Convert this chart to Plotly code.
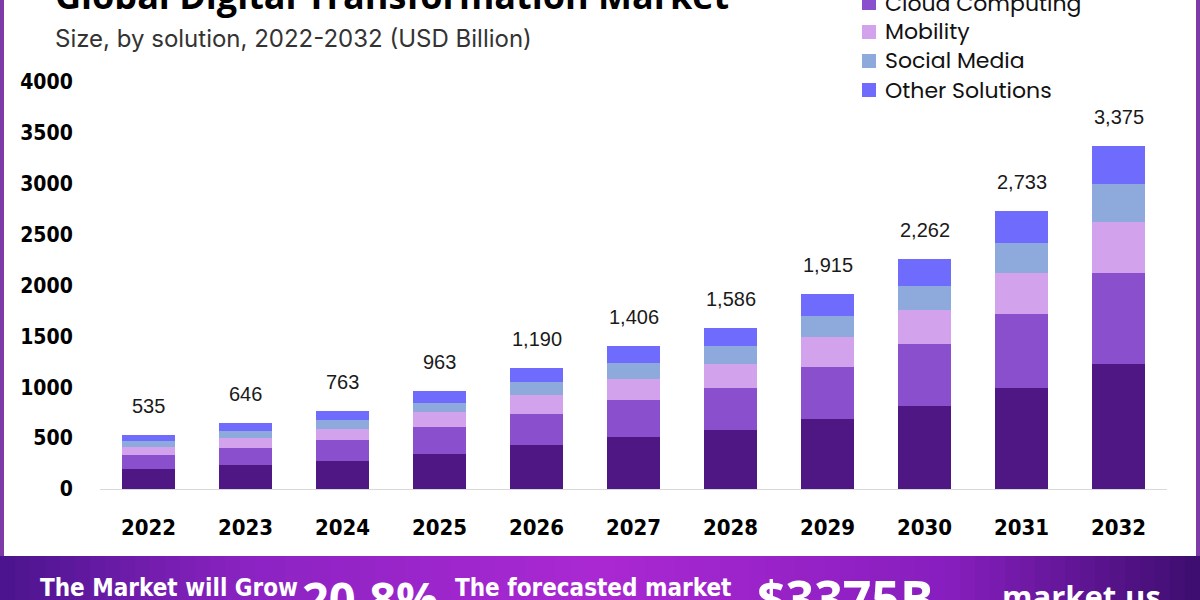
import plotly.graph_objects as go

years = ["2022", "2023", "2024", "2025", "2026", "2027", "2028", "2029", "2030", "2031", "2032"]
totals = [535, 646, 763, 963, 1190, 1406, 1586, 1915, 2262, 2733, 3375]
series_names = ["Analytics", "Cloud Computing", "Mobility", "Social Media", "Other Solutions"]
analytics = [195, 235, 276, 345, 429, 510, 576, 692, 816, 993, 1230]
cloud = [142, 170, 204, 260, 312, 369, 417, 508, 605, 723, 890]
mobility = [80, 97, 110, 148, 180, 207, 234, 290, 338, 404, 503]
social = [59, 72, 86, 95, 131, 157, 177, 210, 239, 302, 372]
other = [59, 72, 87, 115, 138, 163, 182, 215, 264, 311, 380]
series_values = [analytics, cloud, mobility, social, other]
colors = ["#4E1784", "#8A4FCD", "#D3A2EC", "#8EA9DB", "#6F6CFD"]
y_ticks = [0, 500, 1000, 1500, 2000, 2500, 3000, 3500, 4000]

W, H = 1200, 600
ML, MR, MT, MB = 100, 33, 82, 111
PW, PH = W - ML - MR, H - MT - MB


def px(x):
    return (x - ML) / PW


def py(y):
    return (H - MB - y) / PH


fig = go.Figure()
for name, vals, col in zip(series_names, series_values, colors):
    fig.add_trace(go.Bar(x=years, y=vals, name=name, marker=dict(color=col, line=dict(width=0)),
                         width=0.55, showlegend=False))

for i, t in enumerate(totals):
    fig.add_annotation(x=i, y=t, text=f"{t:,}", showarrow=False, yshift=29, yanchor="middle",
                       font=dict(family="Liberation Sans, Arial, sans-serif", size=20, color="#1a1a1a"))

shapes = []
# purple frame
shapes.append(dict(type="line", xref="paper", yref="paper", x0=px(2), x1=px(2), y0=py(0), y1=py(556),
                   line=dict(color="#7E3AA6", width=4)))
shapes.append(dict(type="line", xref="paper", yref="paper", x0=px(1198), x1=px(1198), y0=py(0), y1=py(556),
                   line=dict(color="#7E3AA6", width=4)))
# bottom banner gradient
stops = [(0, (74, 20, 140)), (250, (140, 35, 195)), (600, (170, 40, 210)), (950, (135, 30, 190)), (1200, (60, 14, 110))]


def grad(x):
    for (x0, c0), (x1, c1) in zip(stops[:-1], stops[1:]):
        if x0 <= x <= x1:
            f = (x - x0) / (x1 - x0)
            return "rgb(%d,%d,%d)" % tuple(round(a + (b - a) * f) for a, b in zip(c0, c1))
    return "rgb(60,14,110)"


n = 80
for i in range(n):
    xa, xb = i * W / n, (i + 1) * W / n + 1
    shapes.append(dict(type="rect", xref="paper", yref="paper", x0=px(xa), x1=px(xb), y0=py(556), y1=py(601),
                       fillcolor=grad((xa + xb) / 2), line=dict(width=0), layer="below"))

# legend
for i, (name, col) in enumerate(zip(series_names, colors)):
    cy = -26 + 29 * i
    shapes.append(dict(type="rect", xref="paper", yref="paper", x0=px(862), x1=px(876), y0=py(cy - 7), y1=py(cy + 7),
                       fillcolor=col, line=dict(width=0)))
    fig.add_annotation(xref="paper", yref="paper", x=px(883), y=py(cy), text=name, showarrow=False,
                       xanchor="left", yanchor="middle",
                       font=dict(family="Poppins, Inter, sans-serif", size=22, color="#111"))

# title & subtitle
fig.add_annotation(xref="paper", yref="paper", x=px(53), y=py(-4), text="<b>Global Digital Transformation Market</b>",
                   showarrow=False, xanchor="left", yanchor="middle",
                   font=dict(family="Open Sans, sans-serif", size=36, color="#000"))
fig.add_annotation(xref="paper", yref="paper", x=px(53), y=py(38), text="Size, by solution, 2022-2032 (USD Billion)",
                   showarrow=False, xanchor="left", yanchor="middle",
                   font=dict(family="Inter, sans-serif", size=24, color="#333"))

# banner texts
bfont = "Liberation Sans Narrow, DejaVu Sans Condensed, sans-serif"
fig.add_annotation(xref="paper", yref="paper", x=px(38), y=py(588), text="<b>The Market will Grow</b>",
                   showarrow=False, xanchor="left", yanchor="middle", font=dict(family=bfont, size=24, color="white"))
fig.add_annotation(xref="paper", yref="paper", x=px(300), y=py(598), text="<b>20.8%</b>",
                   showarrow=False, xanchor="left", yanchor="middle", font=dict(family="Open Sans, sans-serif", size=47, color="white"))
fig.add_annotation(xref="paper", yref="paper", x=px(453), y=py(588), text="<b>The forecasted market</b>",
                   showarrow=False, xanchor="left", yanchor="middle", font=dict(family=bfont, size=24, color="white"))
fig.add_annotation(xref="paper", yref="paper", x=px(755), y=py(598), text="<b>$3375B</b>",
                   showarrow=False, xanchor="left", yanchor="middle", font=dict(family="Open Sans, sans-serif", size=50, color="white"))
fig.add_annotation(xref="paper", yref="paper", x=px(1000), y=py(596), text="<b>market.us</b>",
                   showarrow=False, xanchor="left", yanchor="middle", font=dict(family="Open Sans, sans-serif", size=31, color="white"))

fig.update_layout(
    width=W, height=H, barmode="stack",
    margin=dict(l=ML, r=MR, t=MT, b=MB, autoexpand=False),
    paper_bgcolor="white", plot_bgcolor="white", shapes=shapes,
    xaxis=dict(type="category", range=[-0.5, 10.5], showgrid=False, showline=True, linecolor="#d9d9d9", linewidth=1,
               ticks="outside", ticklen=19, tickcolor="rgba(0,0,0,0)",
               tickfont=dict(family=bfont, size=22, color="#000", weight="bold"), zeroline=False),
    yaxis=dict(range=[0, 4000], tickvals=y_ticks, showgrid=False, showline=False, zeroline=False,
               ticks="outside", ticklen=22, tickcolor="rgba(0,0,0,0)",
               tickfont=dict(family="DejaVu Sans Condensed, sans-serif", size=21, color="#000", weight="bold")),
)
fig.write_html("out.html", config={"displayModeBar": False},
               post_script="document.body.style.margin='0';document.body.style.overflow='hidden';")
